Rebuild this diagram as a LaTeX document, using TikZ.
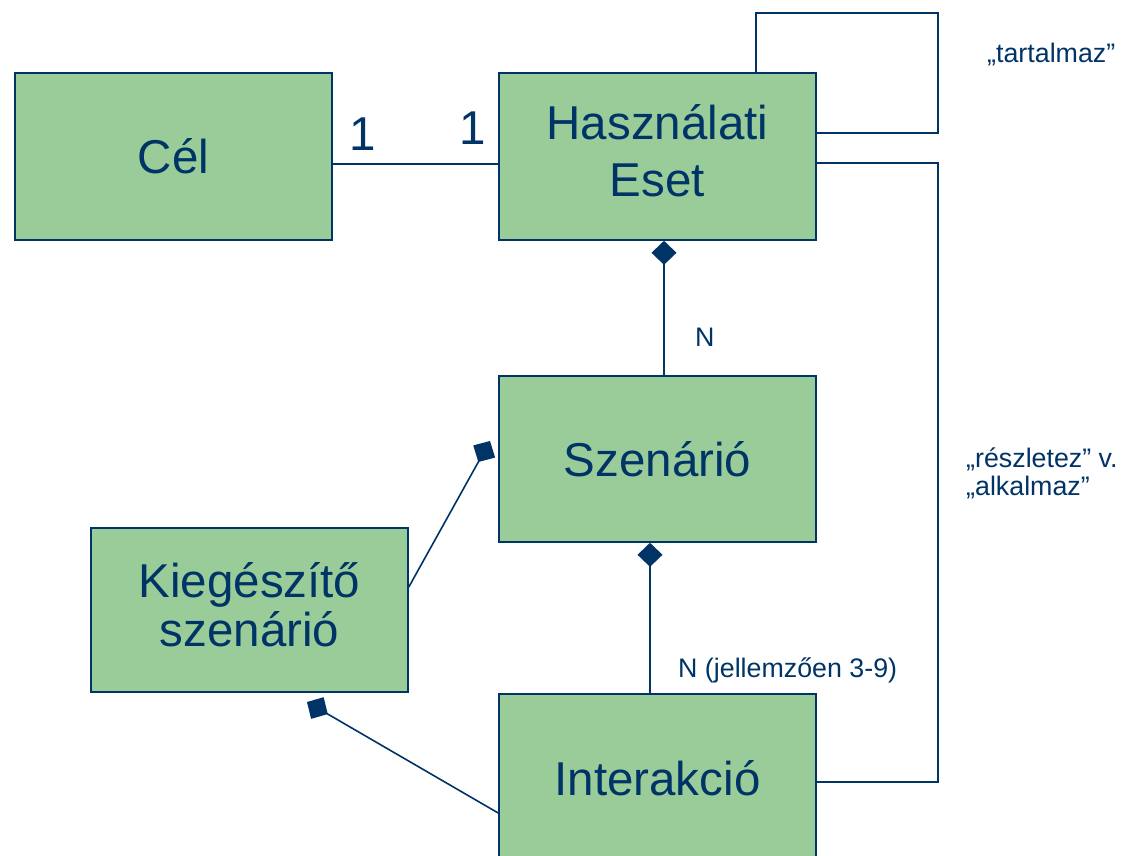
\documentclass[tikz,border=0pt]{standalone}
\usepackage{fontspec}
\setmainfont{Liberation Sans}
\usetikzlibrary{arrows.meta}
\definecolor{navy}{HTML}{003366}
\definecolor{leaf}{HTML}{99CC99}
\newcommand{\cstrut}{\rule[-0.25em]{0pt}{1.216em}}

\begin{document}
\begin{tikzpicture}[x=1pt, y=-1pt,
		box/.style={draw=navy, fill=leaf, line width=1.6pt, minimum width=317pt, minimum height=167pt, inner sep=0pt, align=center, text=navy, font=\fontsize{47.5}{57}\selectfont, execute at begin node=\cstrut, execute at end node=\cstrut},
		lbl/.style={text=navy, font=\fontsize{26.8}{28}\selectfont, inner sep=0pt, align=left},
		big/.style={text=navy, font=\fontsize{47.5}{57}\selectfont, inner sep=0pt},
		conn/.style={draw=navy, line width=1.6pt},
		dia/.style={conn, arrows={Diamond[length=24pt,width=25pt]-}}]
	\useasboundingbox (0,0) rectangle (1124,856);
	\clip (0,0) rectangle (1124,856);
	\node[box] (cel) at (173.5,156.5) {Cél};
	\node[box] (hasz) at (657.5,156.5) {Használati\\Eset};
	\node[box, minimum height=166pt] (szen) at (657.5,459) {Szenárió};
	\node[box, minimum height=164pt, font=\fontsize{47.5}{49}\selectfont] (kieg) at (249.5,610) {Kiegészítő\\szenárió};
	\node[box, minimum height=169pt] (inter) at (657.5,778.5) {Interakció};
	\coordinate (lt) at (938,13);
	\coordinate (rt) at (938,782);
	\coordinate (kt) at (490,441);
	\coordinate (it) at (307,702);
	\draw[conn] ([yshift=-7.5pt]cel.east) -- ([yshift=-7.5pt]hasz.west);
	\draw[conn] ([xshift=98.5pt]hasz.north) |- (lt) |- ([yshift=23.5pt]hasz.east);
	\draw[conn] ([yshift=-6.5pt]hasz.east) -| (rt) -- ([yshift=-3.5pt]inter.east);
	\draw[dia] ([xshift=6.5pt]hasz.south) -- ([xshift=6.5pt]szen.north);
	\draw[dia] ([xshift=-7.5pt]szen.south) -- ([xshift=-7.5pt]inter.north);
	\draw[dia] (kt) -- ([yshift=23pt]kieg.east);
	\draw[dia] (it) -- ([yshift=-34.5pt]inter.west);
	\node[big, anchor=base west] (one1) at (349,150) {1};
	\node[big, anchor=base west] (one2) at (459,145) {1};
	\node[lbl, anchor=base west] (tart) at (987,63) {„tartalmaz”};
	\node[lbl, anchor=base west] (nsz) at (695,346) {N};
	\node[lbl, anchor=base west] (nint) at (678,677) {N (jellemzően 3-9)};
	\node[lbl, anchor=base west] (resz) at (966,495) {„részletez” v.\\„alkalmaz”};
\end{tikzpicture}
\end{document}
